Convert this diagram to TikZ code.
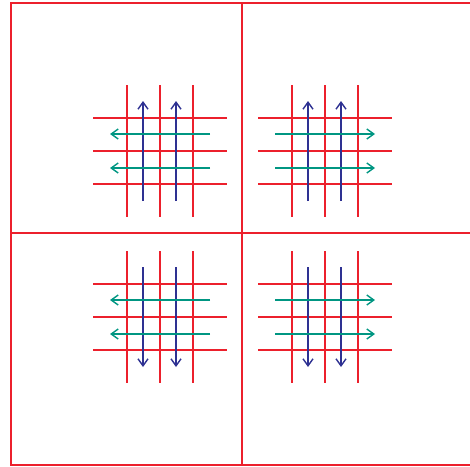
\documentclass[tikz,border=0pt]{standalone}
\usetikzlibrary{arrows.meta,calc}
\definecolor{gridred}{RGB}{236,32,44}
\definecolor{flowblue}{RGB}{46,49,146}
\definecolor{flowteal}{RGB}{0,150,130}
\tikzset{
  frameline/.style={draw=gridred, line width=1.5pt},
  gridline/.style={draw=gridred, line width=1.5pt},
  vflow/.style={draw=flowblue, line width=1.5pt, -{Straight Barb[length=7pt,width=10pt,line width=1.4pt]}},
  hflow/.style={draw=flowteal, line width=1.5pt, -{Straight Barb[length=7pt,width=10pt,line width=1.4pt]}},
}
\begin{document}
\begin{tikzpicture}[x=1pt,y=-1pt]
\useasboundingbox (0,0) rectangle (470,466);
\begin{scope}
\clip (0,0) rectangle (470,466);
% frame
\draw[frameline] (11,3) rectangle (474,465);
\draw[frameline] (242,3) -- (242,465);
\draw[frameline] (11,233) -- (474,233);
\end{scope}
% panels: cx, cy, vertical direction (+1 down / -1 up), horizontal direction (+1 right / -1 left)
\foreach \cx/\cy/\vd/\hd [count=\i] in {160/151/-1/-1, 325/151/-1/1, 160/317/1/-1, 325/317/1/1}{
  \coordinate (c\i) at (\cx,\cy);
  \foreach \k in {-1,0,1}{
    \draw[gridline] ($(c\i)+(\k*33,-66)$) -- ($(c\i)+(\k*33,66)$);
    \draw[gridline] ($(c\i)+(-67,\k*33)$) -- ($(c\i)+(67,\k*33)$);
  }
  \foreach \k in {-17,16}{
    \draw[vflow] ($(c\i)+(\k,-50*\vd)$) -- ($(c\i)+(\k,50*\vd)$);
  }
  \foreach \k in {-17,17}{
    \draw[hflow] ($(c\i)+(-50*\hd,\k)$) -- ($(c\i)+(50*\hd,\k)$);
  }
}
\end{tikzpicture}
\end{document}
